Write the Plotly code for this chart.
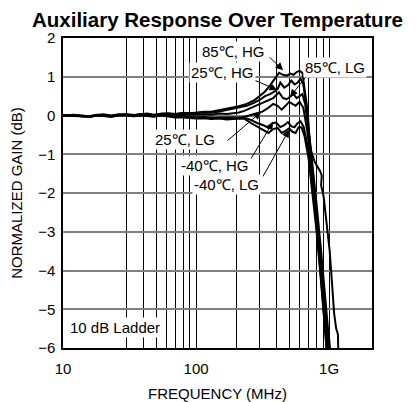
import math
import plotly.graph_objects as go

# shared low-frequency points (MHz)
freq_lo = [10, 12, 14, 16, 18, 20, 23, 26, 30, 34, 38, 43, 48, 55, 62, 70, 80, 90,
           100, 115, 130, 150, 170, 190, 210]

# 85C, HG
f_85hg = freq_lo + [240, 270, 300, 330, 360, 390, 420, 450, 480, 510, 540, 570, 600,
                    630, 660, 690, 715, 770, 820, 880, 940, 990]
g_85hg = [0.0, 0.02, 0.0, -0.03, 0.01, 0.03, 0.0, 0.02, 0.04, 0.01, 0.03, 0.05, 0.02,
          0.04, 0.06, 0.04, 0.07, 0.06, 0.08, 0.1, 0.1, 0.14, 0.18, 0.2, 0.24,
          0.3, 0.38, 0.5, 0.62, 0.78, 0.95, 1.1, 1.05, 1.03, 1.08, 1.05, 1.12, 1.15,
          1.1, 0.6, 0.1, -0.7, -1.8, -3.0, -4.3, -5.4, -6.3]

# 25C, HG
f_25hg = freq_lo + [240, 270, 300, 330, 360, 390, 410, 430, 460, 490, 520, 550, 580,
                    610, 640, 670, 705, 750, 800, 860, 920, 975, 1030]
g_25hg = [0.0, 0.01, -0.02, -0.01, 0.02, 0.01, -0.01, 0.03, 0.02, 0.0, 0.04, 0.03, 0.01,
          0.05, 0.04, 0.03, 0.06, 0.05, 0.06, 0.08, 0.07, 0.1, 0.14, 0.16, 0.2,
          0.25, 0.32, 0.4, 0.5, 0.55, 0.62, 0.68, 0.85, 0.72, 0.78, 0.9, 0.8, 0.85,
          0.95, 0.8, 0.3, -0.4, -1.2, -2.2, -3.3, -4.5, -5.4, -6.2]

# 85C, LG
f_85lg = freq_lo + [230, 260, 300, 340, 380, 420, 450, 480, 510, 540, 570, 600, 630,
                    660, 690, 730, 780, 830, 860, 880, 870, 910, 960, 1010, 1050,
                    1090, 1130, 1165, 1175]
g_85lg = [0.0, 0.0, -0.02, -0.03, 0.0, 0.01, -0.02, 0.01, 0.02, -0.01, 0.02, 0.02, 0.0,
          0.03, 0.02, 0.0, 0.02, 0.01, 0.02, 0.03, 0.02, 0.05, 0.04, 0.06, 0.08,
          0.12, 0.2, 0.3, 0.38, 0.45, 0.6, 0.45, 0.42, 0.48, 0.55, 0.45, 0.5, 0.55,
          0.3, -0.3, -0.9, -1.2, -1.35, -1.45, -1.55, -1.8, -2.1, -2.8, -3.5, -4.3,
          -5.1, -5.5, -5.65, -6.3]

# 25C, LG
f_25lg = freq_lo + [220, 250, 280, 315, 350, 380, 410, 440, 470, 500, 530, 560, 600,
                    640, 685, 730, 785, 850, 910, 960, 1010]
g_25lg = [0.0, -0.01, -0.03, -0.02, 0.0, 0.0, -0.03, 0.0, 0.01, -0.02, 0.01, 0.0, -0.02,
          0.01, -0.01, -0.04, -0.03, -0.05, -0.06, -0.05, -0.07, -0.06, -0.08, -0.07, -0.06,
          -0.05, 0.0, 0.05, 0.1, 0.2, 0.3, 0.25, 0.15, 0.25, 0.35, 0.3, 0.25, 0.35,
          0.2, -0.4, -1.2, -2.2, -3.4, -4.6, -5.5, -6.3]

# -40C, HG
f_m40hg = freq_lo + [230, 260, 290, 320, 350, 375, 400, 430, 460, 490, 520, 550, 580,
                     610, 645, 690, 735, 790, 850, 910, 965]
g_m40hg = [0.0, 0.0, -0.02, -0.02, 0.01, 0.0, -0.02, 0.01, 0.01, -0.01, 0.02, 0.01, -0.01,
           0.02, 0.0, -0.03, -0.02, -0.04, -0.05, -0.04, -0.06, -0.05, -0.06, -0.05, -0.05,
           -0.05, -0.12, -0.2, -0.25, -0.32, -0.2, -0.18, -0.3, -0.25, -0.17, -0.28,
           -0.3, -0.2, -0.15, -0.3, -0.8, -1.6, -2.6, -3.8, -5.0, -6.2]

# -40C, LG
f_m40lg = freq_lo + [230, 260, 290, 320, 350, 380, 410, 440, 470, 500, 530, 560, 590,
                     620, 655, 700, 745, 800, 860, 920, 975]
g_m40lg = [0.0, -0.01, -0.03, -0.03, 0.0, -0.01, -0.03, 0.0, 0.0, -0.02, 0.0, -0.01, -0.03,
           0.0, -0.02, -0.05, -0.05, -0.07, -0.08, -0.07, -0.09, -0.08, -0.1, -0.09, -0.08,
           -0.08, -0.2, -0.3, -0.38, -0.45, -0.35, -0.32, -0.45, -0.4, -0.33, -0.42,
           -0.45, -0.3, -0.3, -0.55, -1.1, -1.9, -2.9, -4.1, -5.3, -6.3]

curves = [(f_85hg, g_85hg), (f_25hg, g_25hg), (f_85lg, g_85lg),
          (f_25lg, g_25lg), (f_m40hg, g_m40hg), (f_m40lg, g_m40lg)]

# vertical grid positions (no line at 20 in the original)
grid_x = [30, 40, 50, 60, 70, 80, 90, 200, 300, 400, 500, 600, 700, 800, 900]

# labels: text, label position (MHz, dB), arrow tail, arrow tip
labels = [
    ("85℃, HG", 190, 1.66, 348, 1.54, 451, 1.17),
    ("25℃, HG", 157, 1.10, 264, 0.94, 406, 0.66),
    ("85℃, LG", 1109, 1.25, 695, 1.07, 509, 0.48),
    ("25℃, LG", 82.6, -0.63, 168, -0.68, 308, 0.09),
    ("-40℃, HG", 139, -1.30, 255, -1.15, 379, -0.17),
    ("-40℃, LG", 168, -1.79, 314, -1.61, 500, -0.37),
]

FONT = "Liberation Sans, Arial, sans-serif"

fig = go.Figure()
for f, g in curves:
    fig.add_trace(go.Scatter(x=f, y=g, mode="lines",
                             line=dict(color="black", width=2), showlegend=False))

# arrows first, then the labels on top
for text, lx, ly, tx, ty, hx, hy in labels:
    fig.add_annotation(x=math.log10(hx), y=hy, ax=math.log10(tx), ay=ty,
                       xref="x", yref="y", axref="x", ayref="y", text="",
                       showarrow=True, arrowhead=2, arrowsize=1.5, arrowwidth=1,
                       arrowcolor="black")
for text, lx, ly, tx, ty, hx, hy in labels:
    fig.add_annotation(x=math.log10(lx), y=ly, text=text, showarrow=False,
                       bgcolor="white", borderpad=1,
                       font=dict(family=FONT, size=15, color="black"))

fig.add_annotation(x=math.log10(10.9), y=-5.48, text="10 dB Ladder", showarrow=False,
                   xanchor="left", bgcolor="white", borderpad=1,
                   font=dict(family=FONT, size=15, color="black"))

# page body adds an 8px offset, so the figure is 8px smaller and margins shifted
fig.update_layout(
    width=409, height=394,
    margin=dict(l=55, r=45, t=30, b=54),
    paper_bgcolor="white", plot_bgcolor="white",
    font=dict(family=FONT, size=15, color="black"),
    title=dict(text="<b>Auxiliary Response Over Temperature</b>",
               x=0.5, xref="paper", y=1 - 11.5 / 394, yref="container",
               xanchor="center", yanchor="middle",
               font=dict(family=FONT, size=20.5, color="black")),
)

fig.update_xaxes(
    type="log", range=[1, math.log10(2100)], automargin=False,
    tickvals=[10, 100, 1000], ticktext=["10", "100", "1G"],
    ticks="outside", ticklen=6, tickcolor="rgba(0,0,0,0)",
    showgrid=True, gridcolor="black", gridwidth=1,
    minor=dict(tickvals=grid_x, showgrid=True, gridcolor="black", gridwidth=1, ticklen=0),
    showline=True, linecolor="black", linewidth=1.5, mirror=True,
    title=dict(text="FREQUENCY (MHz)", standoff=14, font=dict(size=15)),
    zeroline=False,
)
fig.update_yaxes(
    range=[-6, 2], dtick=1, automargin=False,
    ticks="outside", ticklen=3, tickcolor="rgba(0,0,0,0)",
    showgrid=True, gridcolor="#7f7f7f", gridwidth=1.5,
    showline=True, linecolor="black", linewidth=1.5, mirror=True,
    title=dict(text="NORMALIZED GAIN (dB)", standoff=12, font=dict(size=15)),
    zeroline=False,
)

fig.write_html("out.html")
